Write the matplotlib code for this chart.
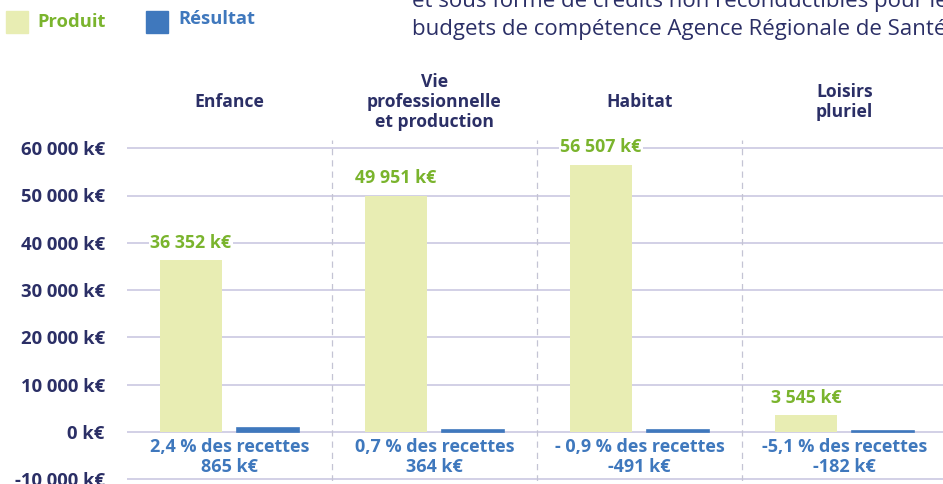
import matplotlib
matplotlib.use("Agg")
import matplotlib.pyplot as plt

plt.rcParams['font.family'] = ['Open Sans', 'DejaVu Sans']

categories = ["Enfance", "Vie\nprofessionnelle\net production", "Habitat", "Loisirs\npluriel"]
produit = [36352, 49951, 56507, 3545]
resultat = [865, 364, -491, -182]
pct_labels = ["2,4 % des recettes", "0,7 % des recettes", "- 0,9 % des recettes", "-5,1 % des recettes"]
yticks = [-10000, 0, 10000, 20000, 30000, 40000, 50000, 60000]
ytick_labels = ["-10 000 k€", "0 k€", "10 000 k€", "20 000 k€", "30 000 k€", "40 000 k€", "50 000 k€", "60 000 k€"]

def fmt(v):
    s = f"{abs(v):,}".replace(",", " ")
    return ("-" if v < 0 else "") + s + " k€"

GREEN_BAR = "#e8edb3"
GREEN_TXT = "#7ab42d"
BLUE = "#3f78bd"
NAVY = "#2b2f66"
GRID = "#cbc8e2"
SEP = "#c4c4d4"

W, H = 943, 484
fig = plt.figure(figsize=(W / 100, H / 100), dpi=100)

ymin, ymax = -10300, 61700
ppu = 47.3 / 10000
y0_px = 432  # pixel row of zero
bottom_px = y0_px + (0 - ymin) * ppu
height_px = (ymax - ymin) * ppu
left_px, width_px = 127, 820
ax = fig.add_axes([left_px / W, (H - bottom_px) / H, width_px / W, height_px / H])
ax.set_xlim(-0.5, 3.5)
ax.set_ylim(ymin, ymax)
for s in ax.spines.values():
    s.set_visible(False)

for t in yticks:
    ax.axhline(t, color=GRID, lw=1.2, zorder=1)
for xs in [0.5, 1.5, 2.5]:
    ax.axvline(xs, color=SEP, lw=0.9, ls=(0, (5, 4)), zorder=1)

x = list(range(len(categories)))
off = 0.188
bw = 0.298
ax.bar([i - off for i in x], produit, width=bw, color=GREEN_BAR, zorder=2)
ax.bar([i + off for i in x], [abs(v) for v in resultat], width=bw, color=BLUE,
       edgecolor=BLUE, linewidth=1.2, zorder=2)

for i, v in enumerate(produit):
    ax.text(i - off, v + 3700, fmt(v), ha="center", va="center", color=GREEN_TXT,
            fontsize=12.8, fontweight="bold", zorder=4,
            bbox=dict(boxstyle="square,pad=0.1", fc="white", ec="none"))

for i, (p, v) in enumerate(zip(pct_labels, resultat)):
    ax.text(i, -5300, p + "\n" + fmt(v), ha="center", va="center", color=BLUE,
            fontsize=13, fontweight="bold", linespacing=1.1, zorder=4)

for i, c in enumerate(categories):
    ax.text(i, 69800, c, ha="center", va="center", color=NAVY, fontsize=12.6,
            fontweight="bold", linespacing=1.15, clip_on=False)

ax.set_yticks(yticks)
ax.set_yticklabels(ytick_labels, fontsize=13.3, fontweight="bold", color=NAVY)
ax.tick_params(axis="y", length=0, pad=16)
ax.set_xticks([])

# legend
fig.patches.append(plt.Rectangle((6 / W, 1 - 33 / H), 22 / W, 22 / H, transform=fig.transFigure,
                                 color=GREEN_BAR, figure=fig))
fig.text(37 / W, 1 - 22 / H, "Produit", color=GREEN_TXT, fontsize=13.2, fontweight="bold", va="center")
fig.patches.append(plt.Rectangle((146 / W, 1 - 33 / H), 22 / W, 22 / H, transform=fig.transFigure,
                                 color=BLUE, figure=fig))
fig.text(178 / W, 1 - 19 / H, "Résultat", color=BLUE, fontsize=13.2, fontweight="bold", va="center")

# body text cut off at top right
fig.text(412 / W, 1 - 7 / H, "et sous forme de crédits non reconductibles pour les",
         color=NAVY, fontsize=16, va="baseline")
fig.text(412 / W, 1 - 35 / H, "budgets de compétence Agence Régionale de Santé",
         color=NAVY, fontsize=16, va="baseline")

fig.savefig("out.png", dpi=100)
